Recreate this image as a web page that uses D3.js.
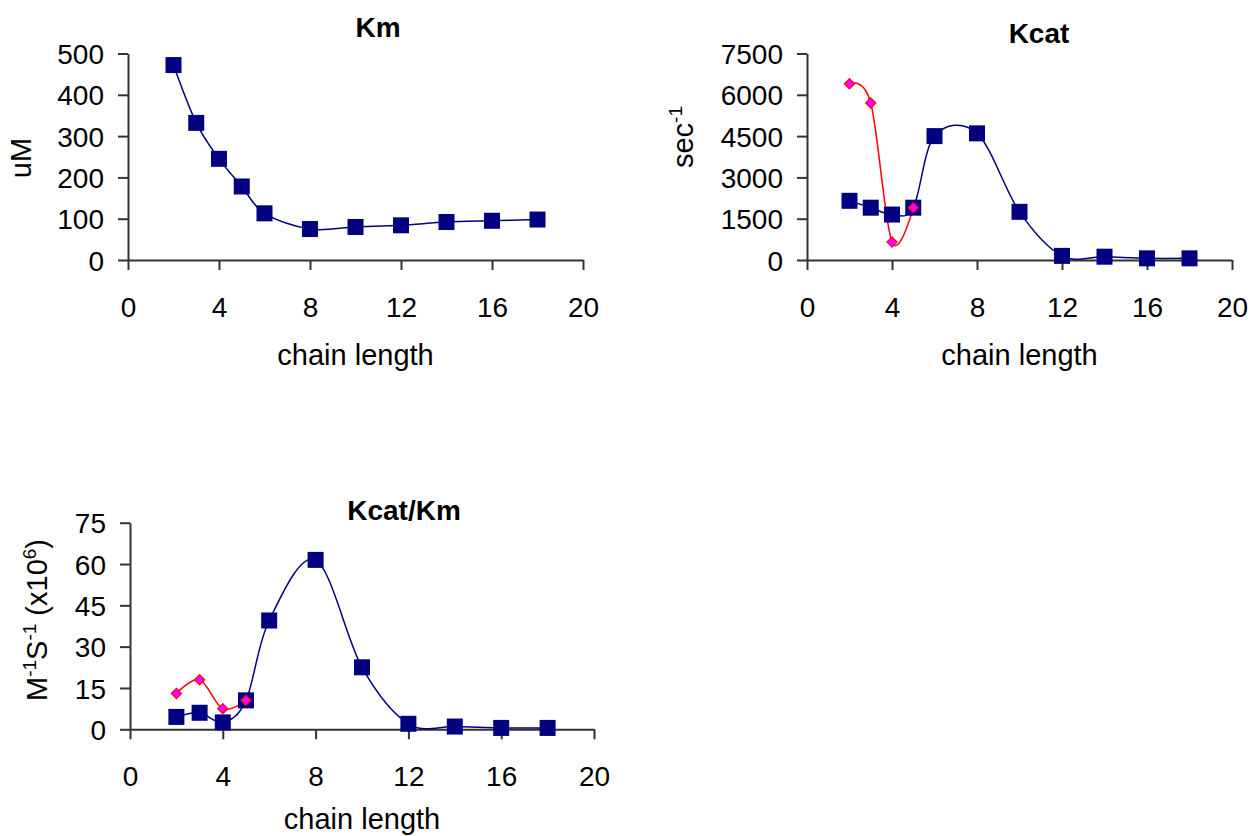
<!DOCTYPE html>
<html>
<head>
<meta charset="utf-8">
<title>Km / Kcat / Kcat-Km</title>
<script src="https://d3js.org/d3.v7.min.js"></script>
<style>
  body { margin: 0; background: #fff; }
  svg { font-family: "Liberation Sans", Arial, sans-serif; }
  .tick text { font-size: 28px; fill: #000; }
  .domain, .tick line { stroke: #333; stroke-width: 2px; }
  .ttl { font-size: 28px; font-weight: bold; }
  .lbl { font-size: 29px; }
</style>
</head>
<body>
<script>
// chain lengths measured
var chainAll = [2, 3, 4, 5, 6, 8, 10, 12, 14, 16, 18];
var chainShort = [2, 3, 4, 5];

// Km (uM)
var kmBlue = [472, 332, 245, 178, 113, 75, 80, 84, 92, 95, 98];

// Kcat (sec^-1)
var kcatBlue = [2150, 1900, 1650, 1900, 4500, 4600, 1750, 150, 120, 60, 60];
var kcatRed = [6400, 5700, 650, 1900];

// Kcat/Km (M^-1 S^-1 x10^6)
var effBlue = [4.5, 6, 2.5, 10.5, 39.5, 61.5, 22.5, 2, 1, 0.5, 0.5];
var effRed = [13, 18, 7.5, 10.5];

var xTicks = [0, 4, 8, 12, 16, 20];
var kmTicks = [0, 100, 200, 300, 400, 500];
var kcatTicks = [0, 1500, 3000, 4500, 6000, 7500];
var effTicks = [0, 15, 30, 45, 60, 75];

var svg = d3.select("body").append("svg")
    .attr("width", 1252).attr("height", 836);

function panel(opt) {
  var x = d3.scaleLinear().domain([0, 20]).range([opt.left, opt.right]);
  var y = d3.scaleLinear().domain([0, opt.ymax]).range([opt.bottom, opt.top]);
  var g = svg.append("g");

  var xa = g.append("g")
    .attr("transform", "translate(0," + opt.bottom + ")")
    .call(d3.axisBottom(x).tickValues(xTicks).tickFormat(d3.format("d"))
      .tickSize(10).tickSizeOuter(0).tickPadding(27));
  xa.selectAll(".tick text").attr("dy", "0.71em");

  var ya = g.append("g")
    .attr("transform", "translate(" + opt.left + ",0)")
    .call(d3.axisLeft(y).tickValues(opt.yticks).tickFormat(d3.format("d"))
      .tickSize(10).tickSizeOuter(0).tickPadding(14));
  ya.selectAll(".tick text").attr("dy", "0.36em");

  var line = d3.line().curve(d3.curveCatmullRom.alpha(0))
    .x(function(d) { return x(d[0]); })
    .y(function(d) { return y(d[1]); });

  var blue = d3.zip(chainAll, opt.blue);
  g.append("path").datum(blue).attr("d", line)
    .attr("fill", "none").attr("stroke", "#000080").attr("stroke-width", 1.5);

  if (opt.red) {
    var red = d3.zip(chainShort, opt.red);
    g.append("path").datum(red).attr("d", line)
      .attr("fill", "none").attr("stroke", "#ff0000").attr("stroke-width", 1.5);
  }

  g.selectAll("rect.sq").data(blue).enter().append("rect")
    .attr("class", "sq")
    .attr("x", function(d) { return x(d[0]) - 8; })
    .attr("y", function(d) { return y(d[1]) - 8; })
    .attr("width", 16).attr("height", 16)
    .attr("fill", "#000080");

  if (opt.red) {
    g.selectAll("path.dm").data(d3.zip(chainShort, opt.red)).enter().append("path")
      .attr("class", "dm")
      .attr("d", d3.symbol().type(d3.symbolDiamond2).size(66))
      .attr("transform", function(d) { return "translate(" + x(d[0]) + "," + y(d[1]) + ")"; })
      .attr("fill", "#ff00ff").attr("stroke", "#ff0000").attr("stroke-width", 1.2);
  }

  g.append("text").attr("class", "ttl")
    .attr("x", opt.titleX).attr("y", opt.titleY).attr("text-anchor", "middle")
    .text(opt.title);

  g.append("text").attr("class", "lbl")
    .attr("x", (opt.left + opt.right) / 2).attr("y", opt.xlabY)
    .attr("text-anchor", "middle").text("chain length");

  var yl = g.append("text").attr("class", "lbl")
    .attr("transform", "translate(" + opt.ylabX + "," + opt.ylabY + ") rotate(-90)")
    .attr("text-anchor", "middle");
  opt.ylab(yl);
}

function sup(t, s) {
  t.append("tspan").attr("dy", -11).style("font-size", "19px").text(s);
}

panel({
  left: 128, right: 583, top: 53.5, bottom: 260, ymax: 500, yticks: kmTicks,
  blue: kmBlue, title: "Km", titleX: 378, titleY: 37, xlabY: 365,
  ylabX: 31, ylabY: 158,
  ylab: function(t) { t.text("uM"); }
});

panel({
  left: 807, right: 1232, top: 53.5, bottom: 260, ymax: 7500, yticks: kcatTicks,
  blue: kcatBlue, red: kcatRed, title: "Kcat", titleX: 1039, titleY: 43, xlabY: 365,
  ylabX: 693, ylabY: 137,
  ylab: function(t) {
    t.append("tspan").text("sec");
    sup(t, "-1");
  }
});

panel({
  left: 130, right: 594, top: 522.7, bottom: 729.3, ymax: 75, yticks: effTicks,
  blue: effBlue, red: effRed, title: "Kcat/Km", titleX: 404, titleY: 520, xlabY: 829,
  ylabX: 47, ylabY: 620,
  ylab: function(t) {
    t.append("tspan").text("M");
    sup(t, "-1");
    t.append("tspan").attr("dy", 11).text("S");
    sup(t, "-1");
    t.append("tspan").attr("dy", 11).text(" (x10");
    sup(t, "6");
    t.append("tspan").attr("dy", 11).text(")");
  }
});
</script>
</body>
</html>
